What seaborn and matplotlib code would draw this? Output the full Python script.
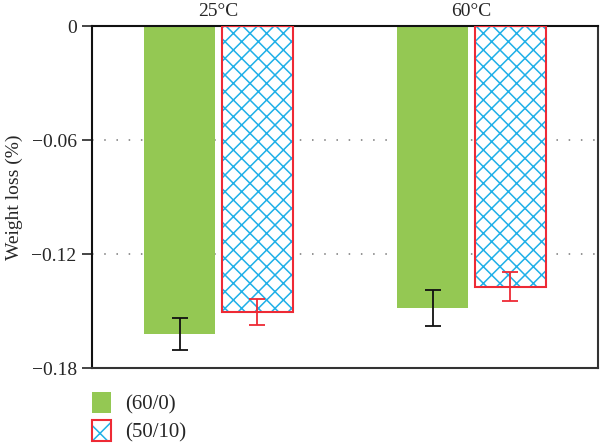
import matplotlib
matplotlib.use('Agg')
import matplotlib.pyplot as plt
import seaborn as sns
import pandas as pd
from matplotlib.patches import Patch, Rectangle

temps = ['25°C', '60°C']
blends = ['(60/0)', '(50/10)']
loss_60_0 = [-0.1621, -0.1482]
loss_50_10 = [-0.1504, -0.1372]
err_60_0 = [0.0082, 0.0095]
err_50_10 = [0.0068, 0.0076]

green = '#94c853'
blue = '#1fb0e8'
red = '#ee2a35'

df = pd.DataFrame({
    'temp': temps * 2,
    'blend': [blends[0]] * 2 + [blends[1]] * 2,
    'loss': loss_60_0 + loss_50_10,
})

sns.set_style('white')
plt.rcParams['font.family'] = ['Liberation Serif', 'DejaVu Serif']
plt.rcParams['hatch.linewidth'] = 1.1

fig = plt.figure(figsize=(6, 4.47), dpi=100)
ax = fig.add_axes([0.1533, 0.1767, 0.8434, 0.7651])

# dotted reference lines behind the bars
for y in [-0.06, -0.12]:
    ax.axhline(y, color='#777777', linestyle=(0, (1, 7)), linewidth=1.1, zorder=0)

sns.barplot(data=df, x='temp', y='loss', hue='blend', order=temps, hue_order=blends,
            palette=[green, 'white'], saturation=1, width=0.614, gap=0.09, legend=False,
            linewidth=0, ax=ax, zorder=2)

# style the hatched series and add red outline + error bars
for bar in ax.containers[1]:
    bar.set_hatch('xx')
    bar.set_edgecolor(blue)
    bar.set_linewidth(0)
    ax.add_patch(Rectangle(bar.get_xy(), bar.get_width(), bar.get_height(),
                           facecolor='none', edgecolor=red, linewidth=1.5, zorder=3))

for cont, vals, errs, col in [(ax.containers[0], loss_60_0, err_60_0, '#111111'),
                              (ax.containers[1], loss_50_10, err_50_10, red)]:
    xs = [b.get_x() + b.get_width() / 2 for b in cont]
    ax.errorbar(xs, vals, yerr=errs, fmt='none', ecolor=col, elinewidth=1.3,
                capsize=6, capthick=1.3, zorder=4)

ax.set_ylim(-0.18, 0)
ax.set_xlim(-0.5, 1.5)
ax.set_yticks([0, -0.06, -0.12, -0.18])
ax.set_yticklabels(['0', '\u22120.06', '\u22120.12', '\u22120.18'])
ax.xaxis.tick_top()
ax.tick_params(axis='x', length=0, pad=4, labelsize=14)
ax.tick_params(axis='y', left=True, length=7, width=1.2, pad=4, labelsize=14, direction='out')
ax.set_xlabel('')
ax.set_ylabel('Weight loss (%)', fontsize=14, labelpad=6)

for side in ['left', 'top']:
    ax.spines[side].set_color('#111111')
    ax.spines[side].set_linewidth(1.5)
for side in ['right', 'bottom']:
    ax.spines[side].set_color('#333333')
    ax.spines[side].set_linewidth(1.5)

h1 = Patch(facecolor=green, edgecolor='none')
h2 = (Patch(facecolor='white', edgecolor=blue, hatch='x', linewidth=0),
      Patch(facecolor='none', edgecolor=red, linewidth=1.5))
fig.legend([h1, h2], blends, loc='upper left', bbox_to_anchor=(0.153, 1 - 392 / 447),
           frameon=False, fontsize=15, handlelength=0.9, handleheight=1.2,
           handletextpad=0.7, labelspacing=0.25, borderpad=0, borderaxespad=0)

plt.savefig('out.png', dpi=100)
